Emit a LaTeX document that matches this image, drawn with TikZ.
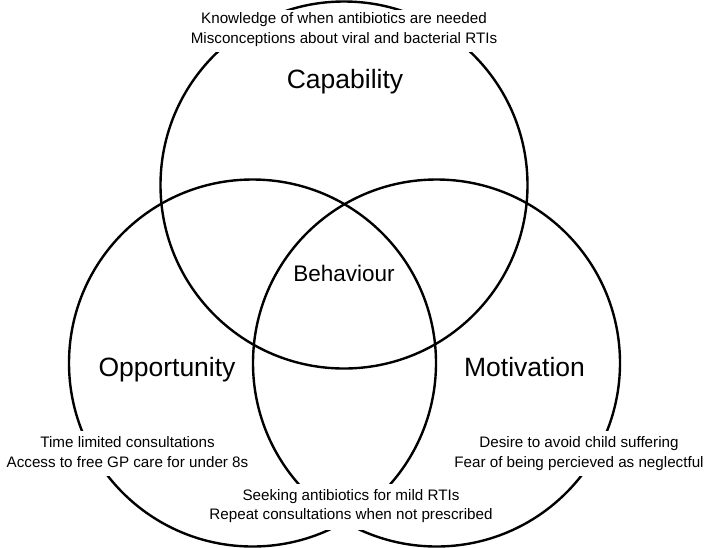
\documentclass[tikz,border=0pt]{standalone}
\usepackage{fontspec}
\setmainfont{Liberation Sans}
\begin{document}
\begin{tikzpicture}[x=1pt,y=-1pt,
  ring/.style={circle,draw=black,line width=2.4pt,minimum size=367pt,inner sep=0pt},
  gap/.style={fill=white},
  small/.style={font=\fontsize{15.2}{20}\selectfont,align=center,inner sep=0pt,text=black},
  big/.style={font=\fontsize{26.5}{30}\selectfont,inner sep=0pt,anchor=base,text=black},
  mid/.style={font=\fontsize{22.5}{26}\selectfont,inner sep=0pt,anchor=base,text=black}]
\useasboundingbox (0,0) rectangle (710,547);
% circles
\node[ring] (capC) at (344,185) {};
\node[ring] (oppC) at (252.5,363) {};
\node[ring] (motC) at (436.5,363) {};
% gaps behind texts
\fill[gap] (185,10) rectangle (505,52);
\fill[gap] (0,431) rectangle (258,476);
\fill[gap] (448,431) rectangle (710,476);
\fill[gap] (205,484) rectangle (497,530);
% labels
\node[big] (cap) at (345,88.1) {Capability};
\node[big] (opp) at (167,376.2) {Opportunity};
\node[big] (mot) at (524.5,376.2) {Motivation};
\node[mid] (beh) at (344,281.9) {Behaviour};
% factor texts
\node[small] (capT) at (344,29.4) {Knowledge of when antibiotics are needed\\Misconceptions about viral and bacterial RTIs};
\node[small] (oppT) at (127.5,452.5) {Time limited consultations\\Access to free GP care for under 8s};
\node[small] (motT) at (579,453.5) {Desire to avoid child suffering\\Fear of being percieved as neglectful};
\node[small,font=\fontsize{15.2}{19}\selectfont] (behT) at (351,505.7) {Seeking antibiotics for mild RTIs\\Repeat consultations when not prescribed};
\end{tikzpicture}
\end{document}
